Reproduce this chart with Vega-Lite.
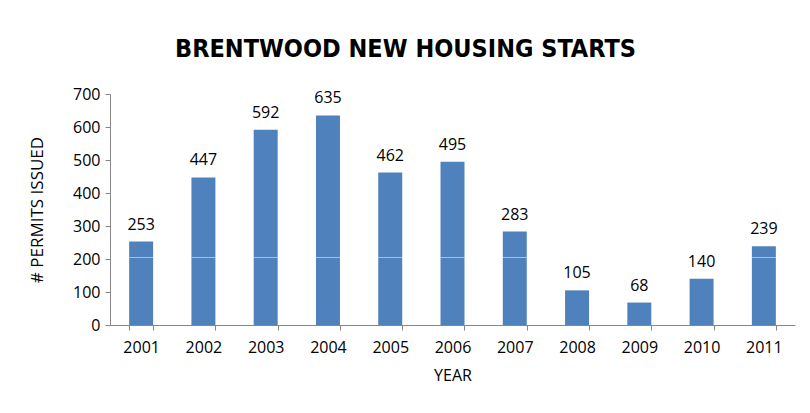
{
  "$schema": "https://vega.github.io/schema/vega-lite/v6.json",
  "autosize": "none",
  "padding": {"left": 110, "top": 94, "right": 15, "bottom": 88},
  "width": 685,
  "height": 231,
  "background": "white",
  "title": {
    "text": "BRENTWOOD NEW HOUSING STARTS",
    "font": "DejaVu Sans Condensed, Liberation Sans, sans-serif",
    "fontSize": 25,
    "fontWeight": "bold",
    "color": "#000000",
    "anchor": "middle",
    "dx": -47,
    "offset": 24
  },
  "data": {
    "values": [
      {"year": "2001", "permits": 253},
      {"year": "2002", "permits": 447},
      {"year": "2003", "permits": 592},
      {"year": "2004", "permits": 635},
      {"year": "2005", "permits": 462},
      {"year": "2006", "permits": 495},
      {"year": "2007", "permits": 283},
      {"year": "2008", "permits": 105},
      {"year": "2009", "permits": 68},
      {"year": "2010", "permits": 140},
      {"year": "2011", "permits": 239}
    ]
  },
  "config": {
    "view": {"stroke": null},
    "axis": {
      "labelFont": "Open Sans",
      "titleFont": "Open Sans",
      "labelFontSize": 16,
      "titleFontSize": 16,
      "titleFontWeight": "normal",
      "labelColor": "#000000",
      "titleColor": "#000000",
      "domainColor": "#868686",
      "tickColor": "#868686",
      "grid": false
    }
  },
  "encoding": {
    "x": {
      "field": "year",
      "type": "ordinal",
      "title": "YEAR",
      "scale": {"paddingInner": 0.615, "paddingOuter": 0.3075},
      "axis": {"labelAngle": 0, "tickBand": "extent", "tickSize": 5, "labelPadding": 9, "titlePadding": 12, "titleFontSize": 16}
    },
    "y": {
      "field": "permits",
      "type": "quantitative",
      "title": "# PERMITS ISSUED",
      "scale": {"domain": [0, 700]},
      "axis": {"values": [0, 100, 200, 300, 400, 500, 600, 700], "labelOverlap": false, "tickSize": 5, "labelPadding": 5, "titlePadding": 26, "titleFontSize": 17}
    }
  },
  "layer": [
    {
      "mark": {"type": "bar", "color": "#4F81BD"}
    },
    {
      "mark": {"type": "bar", "color": "#FFFFFF"},
      "encoding": {
        "y": {
          "datum": 204.5,
          "type": "quantitative",
          "title": "# PERMITS ISSUED",
          "scale": {"domain": [0, 700]},
          "axis": {"values": [0, 100, 200, 300, 400, 500, 600, 700], "labelOverlap": false, "tickSize": 5, "labelPadding": 5, "titlePadding": 26, "titleFontSize": 17}
        },
        "y2": {"datum": 206}
      }
    },
    {
      "mark": {"type": "text", "font": "Open Sans", "fontSize": 16, "baseline": "bottom", "dy": -9, "color": "#000000"},
      "encoding": {
        "text": {"field": "permits", "type": "quantitative"}
      }
    }
  ]
}
